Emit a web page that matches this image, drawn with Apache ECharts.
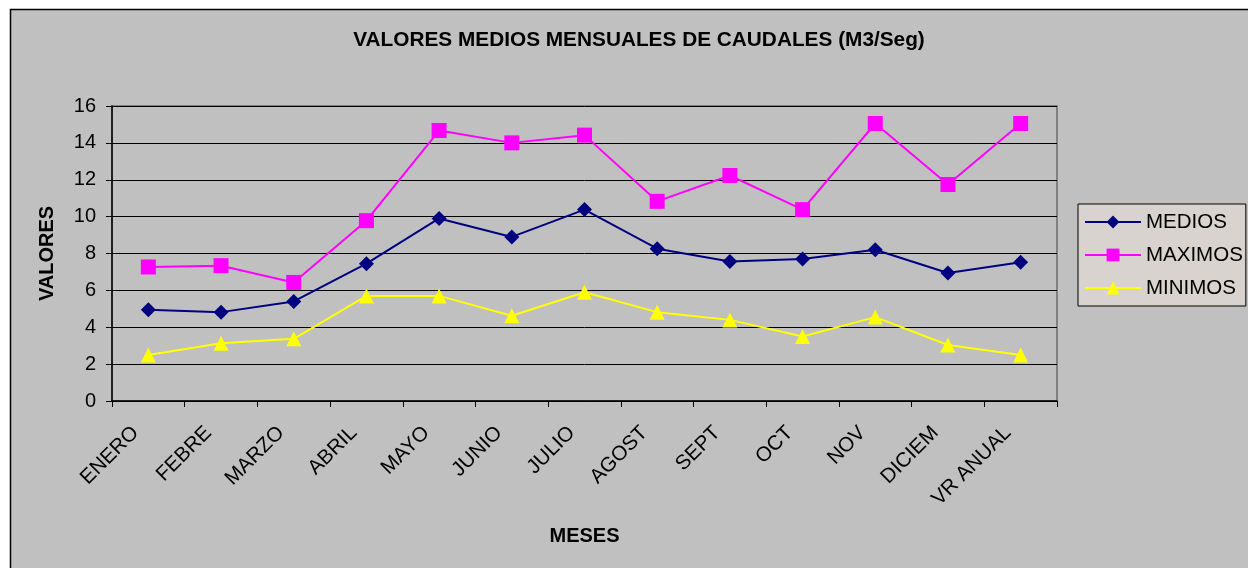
<!DOCTYPE html>
<html><head><meta charset="utf-8">
<script src="https://cdn.jsdelivr.net/npm/echarts@6/dist/echarts.min.js"></script>
<style>html,body{margin:0;padding:0;background:#fff}#c{width:1248px;height:568px}</style>
</head><body><div id="c"></div>
<script>
const categories = ['ENERO','FEBRE','MARZO','ABRIL','MAYO','JUNIO','JULIO','AGOST','SEPT','OCT','NOV','DICIEM','VR ANUAL'];
const medios   = [4.95, 4.82, 5.4, 7.45, 9.9, 8.9, 10.38, 8.26, 7.57, 7.7, 8.2, 6.94, 7.52];
const maximos  = [7.27, 7.34, 6.43, 9.78, 14.67, 14.0, 14.42, 10.83, 12.23, 10.38, 15.05, 11.74, 15.05];
const minimos  = [2.5, 3.13, 3.37, 5.7, 5.7, 4.62, 5.9, 4.82, 4.4, 3.5, 4.55, 3.04, 2.5];
const yTicks = [0, 2, 4, 6, 8, 10, 12, 14, 16];

const chart = echarts.init(document.getElementById('c'), null, {renderer: 'canvas'});
const font = 'Arial, "Liberation Sans", sans-serif';
chart.setOption({
  backgroundColor: '#ffffff',
  animation: false,
  graphic: [{
    type: 'rect', z: -10, silent: true,
    shape: {x: 10.5, y: 9.5, width: 1300, height: 600},
    style: {fill: '#c0c0c0', stroke: '#000000', lineWidth: 1.5}
  }],
  title: {
    text: 'VALORES MEDIOS MENSUALES DE CAUDALES (M3/Seg)',
    left: 634, top: 25, textAlign: 'center',
    textStyle: {fontFamily: font, fontWeight: 'bold', fontSize: 20.8, color: '#000'}
  },
  legend: {
    orient: 'vertical', left: 1078, top: 204,
    padding: [7, 3, 7, 6], itemGap: 11,
    backgroundColor: '#d8d3ce', borderColor: '#000', borderWidth: 1,
    itemWidth: 56, itemHeight: 16,
    textStyle: {fontFamily: font, fontSize: 20.5, color: '#000', lineHeight: 22},
    data: ['MEDIOS', 'MAXIMOS', 'MINIMOS']
  },
  grid: {
    left: 112, top: 106, right: 191, bottom: 167,
    show: true, backgroundColor: '#c0c0c0', borderColor: '#808080', borderWidth: 2,
    containLabel: false
  },
  xAxis: {
    type: 'category', data: categories, boundaryGap: true,
    name: 'MESES', nameLocation: 'middle', nameGap: 125,
    nameTextStyle: {fontFamily: font, fontWeight: 'bold', fontSize: 20, color: '#000'},
    axisLine: {lineStyle: {color: '#000', width: 1.5}},
    axisTick: {show: true, alignWithLabel: false, length: 6, lineStyle: {color: '#000'}},
    axisLabel: {rotate: 45, margin: 16, fontFamily: font, fontSize: 20.5, color: '#000', interval: 0,
      formatter: v => '{a|' + v + '}',
      rich: {a: {fontFamily: font, fontSize: 20.5, color: '#000', padding: [0, 18, 0, 0]}}},
    splitLine: {show: false}
  },
  yAxis: {
    type: 'value', min: 0, max: 16, interval: 2,
    name: 'VALORES', nameLocation: 'middle', nameGap: 55, nameRotate: 90,
    nameTextStyle: {fontFamily: font, fontWeight: 'bold', fontSize: 20, color: '#000'},
    axisLine: {show: true, lineStyle: {color: '#000', width: 1.5}},
    axisTick: {show: true, length: 6, lineStyle: {color: '#000'}},
    axisLabel: {margin: 16, fontFamily: font, fontSize: 20, color: '#000',
      formatter: v => yTicks.includes(v) ? String(v) : ''},
    splitLine: {show: true, lineStyle: {color: '#000', width: 1}}
  },
  series: [
    {name: 'MEDIOS', type: 'line', data: medios, symbol: 'diamond', symbolSize: 15,
      itemStyle: {color: '#000080'}, lineStyle: {color: '#000080', width: 2}, z: 3},
    {name: 'MAXIMOS', type: 'line', data: maximos, symbol: 'rect', symbolSize: 15,
      itemStyle: {color: '#ff00ff'}, lineStyle: {color: '#ff00ff', width: 2}, z: 2},
    {name: 'MINIMOS', type: 'line', data: minimos, symbol: 'triangle', symbolSize: 15,
      itemStyle: {color: '#ffff00'}, lineStyle: {color: '#ffff00', width: 2}, z: 1}
  ]
});
</script></body></html>
